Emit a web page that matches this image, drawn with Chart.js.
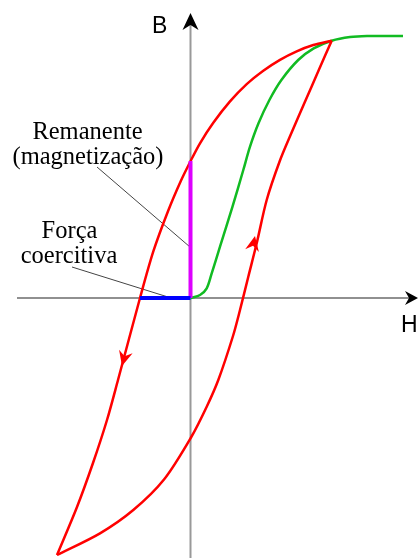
<!DOCTYPE html>
<html>
<head>
<meta charset="utf-8">
<script src="https://cdn.jsdelivr.net/npm/chart.js@4/dist/chart.umd.min.js"></script>
<style>
  html, body { margin: 0; padding: 0; background: #fff; }
  #wrap { width: 419px; height: 558px; }
</style>
</head>
<body>
<div id="wrap"><canvas id="myChart" width="419" height="558"></canvas></div>
<script>
// field strength H and flux density B, arbitrary units
const descH = [14.12, 12.28, 10.62, 8.95, 7.28, 5.62, 3.95, 2.28, 0.95, 0, -0.98, -2.25, -3.71, -5.05, -7.25, -8.35, -9.75, -11.35, -13.35];
const descB = [25.73, 25.3, 24.67, 23.82, 22.73, 21.39, 19.66, 17.52, 15.47, 13.68, 11.68, 8.68, 4.68, 0, -8.2, -12.2, -16.5, -20.9, -25.7];

const ascH = [-13.35, -9.05, -5.72, -2.65, 0.05, 1.62, 2.78, 4.25, 4.95, 5.78, 6.62, 7.62, 8.91, 10.08, 11.38, 12.83, 14.12];
const ascB = [-25.7, -23.53, -21.2, -18.15, -13.95, -10.87, -8.2, -3.8, -1.2, 2.13, 5.47, 9.8, 13.65, 16.47, 19.47, 22.8, 25.73];

const initH = [0, 0.95, 1.62, 2.12, 2.95, 4.2, 5.28, 5.95, 6.8, 7.89, 9.09, 10.77, 12.32, 14.12, 15.95, 17.65, 21.25];
const initB = [0, 0.3, 0.97, 2.47, 5.13, 9.13, 12.8, 15.13, 17.47, 19.8, 21.8, 23.8, 24.97, 25.73, 26.1, 26.2, 26.2];

const remanence = 13.7;
const coercive = -5.05;

const axisH = [-17.35, 22.75];
const axisB = [-26, 28.5];

function pts(xs, ys) {
  return xs.map((x, i) => ({ x: x, y: ys[i] }));
}

const arrows = [
  { tip: [axisH[1], 0], tail: [axisH[0], 0], len: 13, half: 7, notch: 4, color: "#000" },
  { tip: [0, axisB[1]], tail: [0, axisB[0]], len: 17, half: 8, notch: 5, color: "#000" },
  { tip: [-6.85, -6.8], tail: [-5.05, 0], len: 15, half: 7, notch: 5, color: "#ff0000" },
  { tip: [6.45, 6.2], tail: [5.2, 0], len: 15, half: 7, notch: 5, color: "#ff0000" }
];

const serif = "24.5px 'Liberation Serif', 'Times New Roman', serif";
const sans = "23px 'Liberation Sans', Arial, sans-serif";
const labels = [
  { text: "B", x: -3.85, y: 26.5, align: "left", font: sans },
  { text: "H", x: 21.05, y: -3.4, align: "left", font: sans },
  { text: "Remanente", x: -10.3, y: 15.9, align: "center", font: serif },
  { text: "(magnetização)", x: -10.25, y: 13.4, align: "center", font: serif },
  { text: "Força", x: -12.1, y: 6.0, align: "center", font: serif },
  { text: "coercitiva", x: -12.15, y: 3.5, align: "center", font: serif }
];

const annotate = {
  id: "annotate",
  afterDatasetsDraw(chart) {
    const ctx = chart.ctx;
    const sx = chart.scales.x, sy = chart.scales.y;
    ctx.save();
    arrows.forEach(a => {
      const tx = sx.getPixelForValue(a.tip[0]), ty = sy.getPixelForValue(a.tip[1]);
      const bx = sx.getPixelForValue(a.tail[0]), by = sy.getPixelForValue(a.tail[1]);
      let dx = tx - bx, dy = ty - by;
      const d = Math.hypot(dx, dy);
      dx /= d; dy /= d;
      const nx = -dy, ny = dx;
      ctx.beginPath();
      ctx.moveTo(tx, ty);
      ctx.lineTo(tx - dx * a.len + nx * a.half, ty - dy * a.len + ny * a.half);
      ctx.lineTo(tx - dx * (a.len - a.notch), ty - dy * (a.len - a.notch));
      ctx.lineTo(tx - dx * a.len - nx * a.half, ty - dy * a.len - ny * a.half);
      ctx.closePath();
      ctx.fillStyle = a.color;
      ctx.fill();
    });
    ctx.fillStyle = "#000";
    ctx.textBaseline = "alphabetic";
    labels.forEach(l => {
      ctx.font = l.font;
      ctx.textAlign = l.align;
      ctx.fillText(l.text, sx.getPixelForValue(l.x), sy.getPixelForValue(l.y));
    });
    ctx.restore();
  }
};

const line = (data, color, width, extra) => Object.assign({
  data: data,
  showLine: true,
  borderColor: color,
  backgroundColor: color,
  borderWidth: width,
  pointRadius: 0,
  fill: false,
  tension: 0
}, extra || {});

const curve = { tension: 0.3 };

const ctx = document.getElementById("myChart").getContext("2d");

new Chart(ctx, {
  type: "scatter",
  data: {
    datasets: [
      line([{ x: coercive, y: 0 }, { x: 0, y: 0 }], "#0000ff", 4),
      line([{ x: 0, y: 0 }, { x: 0, y: remanence }], "#dd00ff", 4),
      line(pts(descH, descB), "#ff0000", 2.5, curve),
      line(pts(ascH, ascB), "#ff0000", 2.5, curve),
      line(pts(initH, initB), "#11bb22", 2.5, curve),
      line([{ x: -9.35, y: 13.1 }, { x: -0.05, y: 5.1 }], "#444", 1),
      line([{ x: -11.85, y: 3.1 }, { x: -2.25, y: 0.1 }], "#444", 1),
      line([{ x: 0, y: axisB[0] }, { x: 0, y: axisB[1] - 1 }], "#999", 2),
      line([{ x: axisH[0], y: 0 }, { x: axisH[1] - 0.8, y: 0 }], "#222", 1.2)
    ]
  },
  options: {
    responsive: false,
    animation: false,
    layout: { padding: 0 },
    plugins: { legend: { display: false }, tooltip: { enabled: false } },
    scales: {
      x: { type: "linear", min: -19.05, max: 22.85, display: false },
      y: { type: "linear", min: -26, max: 29.8, display: false }
    }
  },
  plugins: [annotate]
});
</script>
</body>
</html>
